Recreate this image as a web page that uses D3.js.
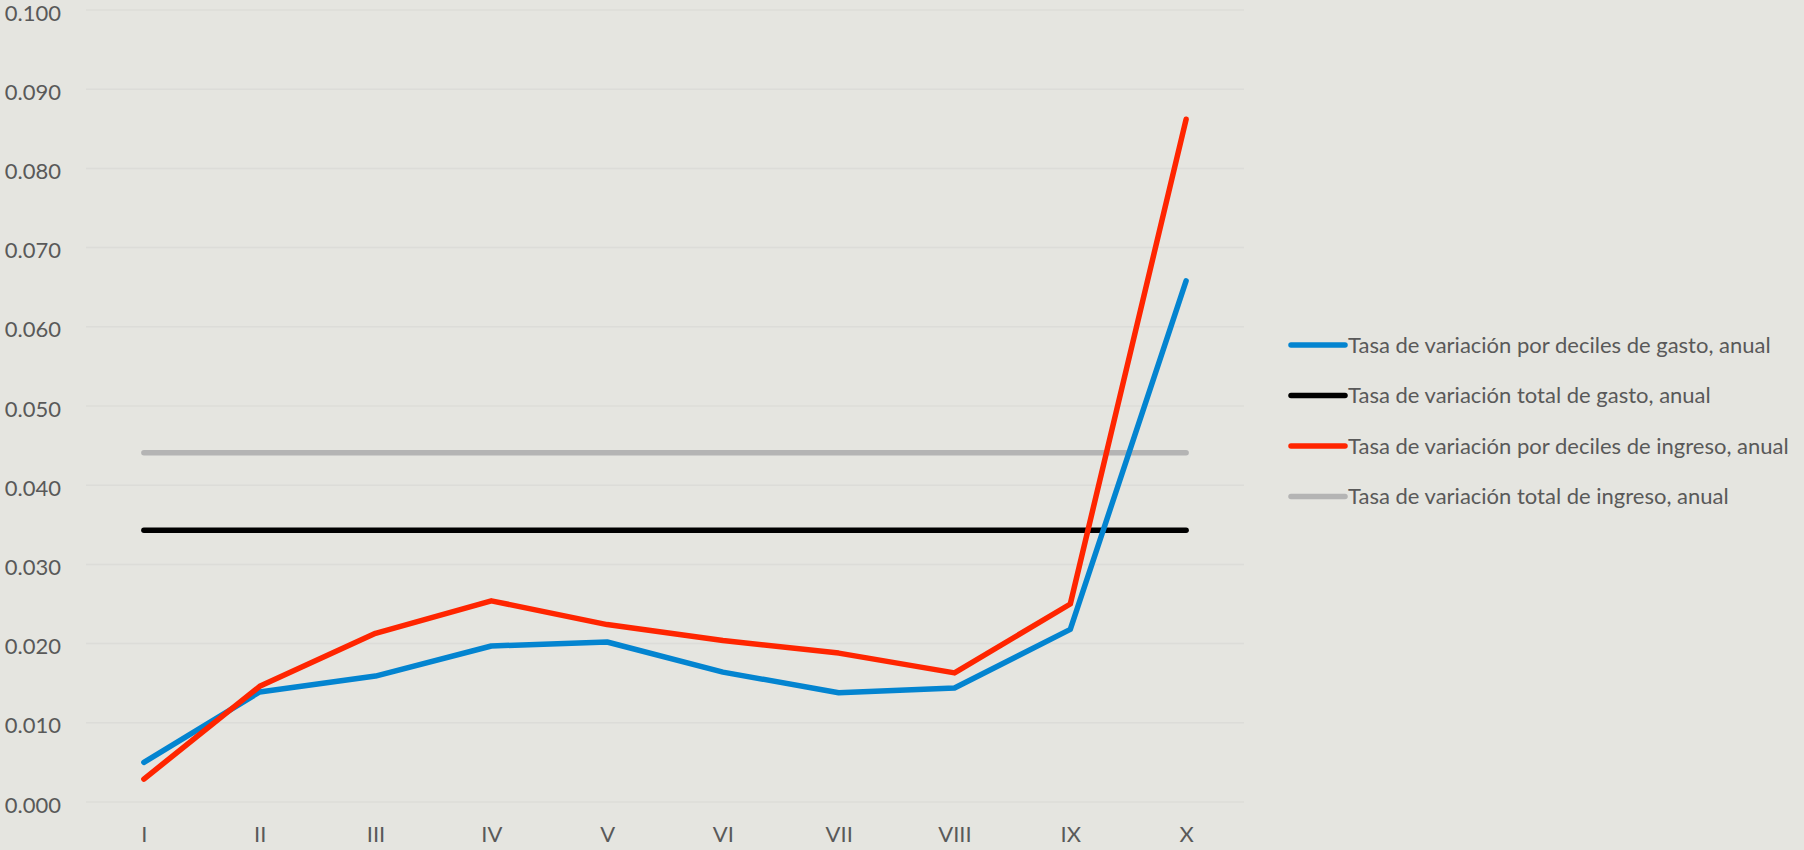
<!DOCTYPE html>
<html>
<head>
<meta charset="utf-8">
<script src="https://cdn.jsdelivr.net/npm/d3@7"></script>
<style>
  body { margin: 0; background: #e5e5e0; }
  svg { display: block; font-family: Lato, "Open Sans", sans-serif; }
</style>
</head>
<body>
<div class="container"></div>
<script>
const width = 1804;
const height = 850;

const deciles = ["I", "II", "III", "IV", "V", "VI", "VII", "VIII", "IX", "X"];
const gastoDeciles = [0.0050, 0.0139, 0.0159, 0.0197, 0.0202, 0.0164, 0.0138, 0.0144, 0.0218, 0.0658];
const gastoTotal = [0.0343, 0.0343, 0.0343, 0.0343, 0.0343, 0.0343, 0.0343, 0.0343, 0.0343, 0.0343];
const ingresoDeciles = [0.0029, 0.0146, 0.0213, 0.0254, 0.0224, 0.0204, 0.0188, 0.0163, 0.0250, 0.0862];
const ingresoTotal = [0.0441, 0.0441, 0.0441, 0.0441, 0.0441, 0.0441, 0.0441, 0.0441, 0.0441, 0.0441];
const yTicks = [0, 0.01, 0.02, 0.03, 0.04, 0.05, 0.06, 0.07, 0.08, 0.09, 0.1];

const series = [
    {name: "Tasa de variación por deciles de gasto, anual", values: gastoDeciles, color: "#0384d0"},
    {name: "Tasa de variación total de gasto, anual", values: gastoTotal, color: "#000000"},
    {name: "Tasa de variación por deciles de ingreso, anual", values: ingresoDeciles, color: "#ff2500"},
    {name: "Tasa de variación total de ingreso, anual", values: ingresoTotal, color: "#b4b4b4"}
];
// draw order: totals behind deciles
const drawOrder = [3, 1, 0, 2];

const margin = {left: 86, right: 1244, top: 10, bottom: 802};

const svg = d3.select(".container")
    .append("svg")
    .attr("width", width)
    .attr("height", height);

svg.append("rect")
    .attr("width", width)
    .attr("height", height)
    .attr("fill", "#e5e5e0");

const xScale = d3.scalePoint()
    .domain(deciles)
    .range([margin.left, margin.right])
    .padding(0.5);

const yScale = d3.scaleLinear()
    .domain([0, 0.1])
    .range([margin.bottom, margin.top]);

// gridlines
svg.append("g")
    .selectAll("line")
    .data(yTicks)
    .enter()
    .append("line")
    .attr("x1", margin.left)
    .attr("x2", margin.right)
    .attr("y1", d => yScale(d))
    .attr("y2", d => yScale(d))
    .attr("stroke", "#dcdcd8")
    .attr("stroke-width", 1.5);

// y axis labels
const yAxis = d3.axisLeft(yScale)
    .tickValues(yTicks)
    .tickFormat(d3.format(".3f"))
    .tickSize(0)
    .tickPadding(0);

const yg = svg.append("g")
    .attr("transform", "translate(61,3)")
    .call(yAxis);
yg.select(".domain").remove();
yg.selectAll("text")
    .attr("fill", "#595959")
    .attr("font-size", 22)
    .attr("font-family", "Lato, 'Open Sans', sans-serif");

// x axis labels
const xAxis = d3.axisBottom(xScale)
    .tickSize(0)
    .tickPadding(0);

const xg = svg.append("g")
    .attr("transform", "translate(0,826)")
    .call(xAxis);
xg.select(".domain").remove();
xg.selectAll("text")
    .attr("fill", "#595959")
    .attr("font-size", 22)
    .attr("font-family", "Lato, 'Open Sans', sans-serif");

const line = d3.line()
    .x((d, i) => xScale(deciles[i]))
    .y(d => yScale(d));

svg.append("g")
    .selectAll("path")
    .data(drawOrder.map(i => series[i]))
    .enter()
    .append("path")
    .attr("d", d => line(d.values))
    .attr("fill", "none")
    .attr("stroke", d => d.color)
    .attr("stroke-width", 5.5)
    .attr("stroke-linecap", "round")
    .attr("stroke-linejoin", "round");

// legend
const legend = svg.append("g")
    .attr("transform", "translate(1291,345)");

const item = legend.selectAll("g")
    .data(series)
    .enter()
    .append("g")
    .attr("transform", (d, i) => `translate(0,${i * 50.5})`);

item.append("line")
    .attr("x1", 0)
    .attr("x2", 54)
    .attr("stroke", d => d.color)
    .attr("stroke-width", 5.5)
    .attr("stroke-linecap", "round");

item.append("text")
    .attr("x", 57)
    .attr("dy", "0.35em")
    .attr("fill", "#595959")
    .attr("font-size", 22)
    .text(d => d.name);
</script>
</body>
</html>
